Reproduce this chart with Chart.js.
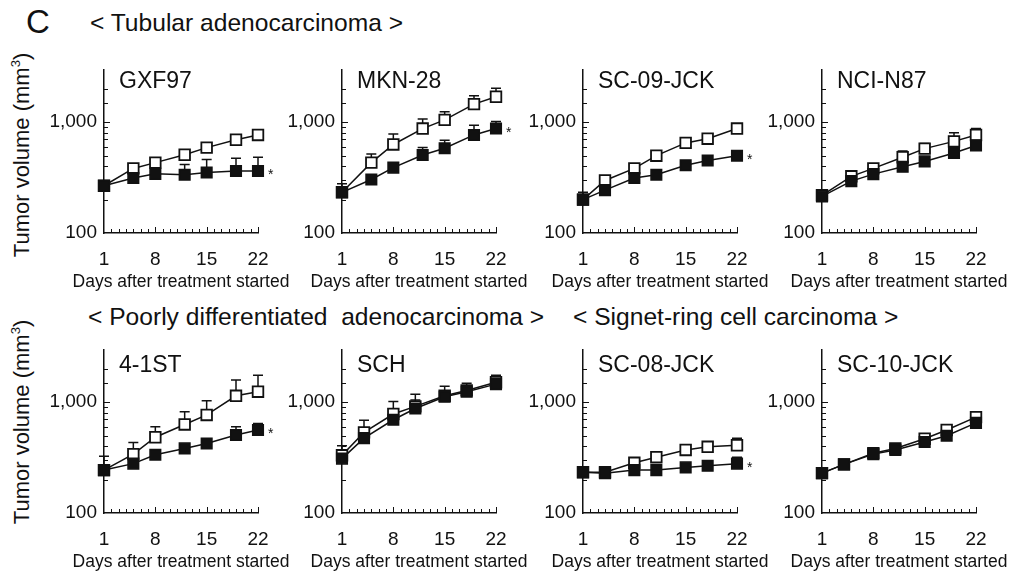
<!DOCTYPE html>
<html>
<head>
<meta charset="utf-8">
<script src="https://cdn.jsdelivr.net/npm/chart.js@4.4.0/dist/chart.umd.min.js"></script>
<style>
  body { margin: 0; background: #fff; width: 1014px; height: 574px; position: relative; overflow: hidden;
         font-family: "Liberation Sans", Arial, sans-serif; color: #111; }
  .txt { position: absolute; white-space: pre; line-height: 1; }
  .head { font-size: 24.6px; }
  .ytitle { font-size: 22px; transform: translate(-50%, -50%) rotate(-90deg); }
  .ytitle span { font-size: 13px; position: relative; top: -9px; }
  canvas { position: absolute; }
</style>
</head>
<body>
<div class="txt" style="left:26px;top:5px;font-size:33px">C</div>
<div class="txt head" style="left:90px;top:11px">&lt; Tubular adenocarcinoma &gt;</div>
<div class="txt head" style="left:88px;top:305px">&lt; Poorly differentiated  adenocarcinoma &gt;</div>
<div class="txt head" style="left:573px;top:305px">&lt; Signet-ring cell carcinoma &gt;</div>
<div class="txt ytitle" style="left:22px;top:155px">Tumor volume (mm<span>3</span>)</div>
<div class="txt ytitle" style="left:22px;top:422px">Tumor volume (mm<span>3</span>)</div>

<script>
// measurement days (two schedules)
const daysA = [1, 5, 8, 12, 15, 19, 22];
const daysB = [1, 4, 8, 11, 15, 18, 22];
const xTickLabels = [1, 8, 15, 22];
const yTickLabels = [100, 1000];
const xTitle = 'Days after treatment started';

// control (open squares) and treated (filled squares); *Hi = top of error bar
const gxf97Ctrl = [267, 383, 432, 509, 590, 695, 768];
const gxf97CtrlHi = [null, null, null, null, null, null, null];
const gxf97Trt = [267, 314, 342, 336, 352, 363, 363];
const gxf97TrtHi = [null, null, null, 415, 461, 474, 483];

const mkn28Ctrl = [233, 432, 630, 877, 1050, 1458, 1698];
const mkn28CtrlHi = [279, 516, 783, 1070, 1245, 1733, 2030];
const mkn28Trt = [233, 304, 389, 506, 582, 768, 877];
const mkn28TrtHi = [null, null, null, 590, 686, 937, 1014];

const sc09Ctrl = [200, 298, 383, 499, 651, 710, 877];
const sc09CtrlHi = [233, null, null, null, null, null, null];
const sc09Trt = [200, 244, 314, 336, 409, 452, 499];
const sc09TrtHi = [null, null, null, null, null, null, null];

const n87Ctrl = [219, 325, 383, 483, 578, 672, 768];
const n87CtrlHi = [241, 359, 409, 551, 642, 804, 877];
const n87Trt = [214, 294, 340, 396, 443, 527, 617];
const n87TrtHi = [null, null, null, null, null, null, null];

const st41Ctrl = [244, 340, 483, 630, 768, 1143, 1245];
const st41CtrlHi = [325, 432, 602, 820, 1034, 1590, 1757];
const st41Trt = [244, 279, 336, 383, 424, 506, 562];
const st41TrtHi = [null, null, null, null, null, 602, 642];

const schCtrl = [332, 534, 783, 918, 1143, 1279, 1517];
const schCtrlHi = [405, 686, 1014, 1181, 1393, 1486, 1757];
const schTrt = [310, 474, 695, 877, 1120, 1245, 1458];
const schTrtHi = [null, null, null, 1049, null, null, null];

const sc08Ctrl = [233, 233, 284, 319, 371, 396, 409];
const sc08CtrlHi = [null, null, null, null, null, null, 474];
const sc08Trt = [233, 229, 244, 244, 258, 267, 279];
const sc08TrtHi = [null, null, null, null, null, null, 319];

const sc10Ctrl = [229, 275, 347, 383, 468, 562, 734];
const sc10CtrlHi = [null, null, null, null, null, null, 794];
const sc10Trt = [229, 275, 340, 371, 438, 499, 651];
const sc10TrtHi = [null, null, null, null, null, null, null];

const panels = [
  { name: 'GXF97',     days: daysA, ctrl: gxf97Ctrl, ctrlHi: gxf97CtrlHi, trt: gxf97Trt, trtHi: gxf97TrtHi, star: true },
  { name: 'MKN-28',    days: daysA, ctrl: mkn28Ctrl, ctrlHi: mkn28CtrlHi, trt: mkn28Trt, trtHi: mkn28TrtHi, star: true },
  { name: 'SC-09-JCK', days: daysB, ctrl: sc09Ctrl,  ctrlHi: sc09CtrlHi,  trt: sc09Trt,  trtHi: sc09TrtHi,  star: true },
  { name: 'NCI-N87',   days: daysA, ctrl: n87Ctrl,   ctrlHi: n87CtrlHi,   trt: n87Trt,   trtHi: n87TrtHi,   star: false },
  { name: '4-1ST',     days: daysA, ctrl: st41Ctrl,  ctrlHi: st41CtrlHi,  trt: st41Trt,  trtHi: st41TrtHi,  star: true },
  { name: 'SCH',       days: daysB, ctrl: schCtrl,   ctrlHi: schCtrlHi,   trt: schTrt,   trtHi: schTrtHi,   star: false },
  { name: 'SC-08-JCK', days: daysB, ctrl: sc08Ctrl,  ctrlHi: sc08CtrlHi,  trt: sc08Trt,  trtHi: sc08TrtHi,  star: true },
  { name: 'SC-10-JCK', days: daysB, ctrl: sc10Ctrl,  ctrlHi: sc10CtrlHi,  trt: sc10Trt,  trtHi: sc10TrtHi,  star: false },
];

// layout
const colLeft = [44, 282, 523, 762];
const rowTop = [51, 331];
const nameDy = [19, 23];
const W = 250, H = 241;
const FONT = '"Liberation Sans", Arial, sans-serif';
const INK = '#111';

// inward tick marks + error bars (drawn under the markers)
const ticksAndErrors = {
  id: 'ticksAndErrors',
  beforeDatasetsDraw(chart) {
    const { ctx, chartArea: a, scales: { x, y } } = chart;
    ctx.save();
    ctx.strokeStyle = INK;
    ctx.lineWidth = 1;
    ctx.beginPath();
    x.ticks.forEach(t => {
      if (t.value === x.min) return;
      const px = Math.round(x.getPixelForValue(t.value)) + 0.5;
      const len = xTickLabels.includes(t.value) ? 6 : 4;
      ctx.moveTo(px, a.bottom);
      ctx.lineTo(px, a.bottom - len);
    });
    y.ticks.forEach(t => {
      if (t.value === y.min || t.value === y.max) return;
      const py = Math.round(y.getPixelForValue(t.value)) + 0.5;
      const len = yTickLabels.includes(Math.round(t.value)) ? 6 : 4;
      ctx.moveTo(a.left, py);
      ctx.lineTo(a.left + len, py);
    });
    ctx.stroke();

    ctx.lineWidth = 1.5;
    ctx.beginPath();
    chart.data.datasets.forEach((ds, i) => {
      const meta = chart.getDatasetMeta(i);
      ds.hi.forEach((h, j) => {
        if (h == null) return;
        const pt = meta.data[j];
        const yh = y.getPixelForValue(h);
        ctx.moveTo(pt.x, pt.y);
        ctx.lineTo(pt.x, yh);
        ctx.moveTo(pt.x - 5, yh);
        ctx.lineTo(pt.x + 5, yh);
      });
    });
    ctx.stroke();
    ctx.restore();
  },
  afterDraw(chart, args, opts) {
    const { ctx, chartArea: a } = chart;
    ctx.save();
    ctx.fillStyle = INK;
    ctx.textBaseline = 'alphabetic';
    ctx.textAlign = 'left';
    ctx.font = '23px ' + FONT;
    ctx.fillText(opts.name, a.left + 15, a.top + opts.nameDy);
    if (opts.star) {
      const meta = chart.getDatasetMeta(1);
      const pt = meta.data[meta.data.length - 1];
      ctx.font = '14px ' + FONT;
      ctx.fillText('*', pt.x + 10, pt.y + 8);
    }
    ctx.font = '17.5px ' + FONT;
    ctx.textAlign = 'center';
    ctx.fillText(xTitle, (a.left + a.right) / 2, a.bottom + 54);
    ctx.restore();
  }
};

panels.forEach((p, k) => {
  const row = Math.floor(k / 4), col = k % 4;
  const cv = document.createElement('canvas');
  cv.width = W; cv.height = H;
  cv.style.left = colLeft[col] + 'px';
  cv.style.top = rowTop[row] + 'px';
  document.body.appendChild(cv);

  new Chart(cv, {
    type: 'line',
    data: {
      datasets: [
        {
          label: 'control',
          data: p.days.map((d, i) => ({ x: d, y: p.ctrl[i] })),
          hi: p.ctrlHi,
          borderColor: INK, borderWidth: 1.5,
          pointStyle: 'rect', pointRadius: 7.5,
          pointBackgroundColor: '#fff', pointBorderColor: INK, pointBorderWidth: 1.8,
          clip: false, order: 2
        },
        {
          label: 'treated',
          data: p.days.map((d, i) => ({ x: d, y: p.trt[i] })),
          hi: p.trtHi,
          borderColor: INK, borderWidth: 1.5,
          pointStyle: 'rect', pointRadius: 7.5,
          pointBackgroundColor: INK, pointBorderColor: INK, pointBorderWidth: 1.5,
          clip: false, order: 1
        }
      ]
    },
    options: {
      responsive: false,
      animation: false,
      layout: { padding: { top: 10, right: 36, bottom: 2, left: 0 } },
      plugins: {
        legend: { display: false },
        tooltip: { enabled: false },
        ticksAndErrors: { name: p.name, star: p.star, nameDy: nameDy[row] }
      },
      scales: {
        x: {
          type: 'linear', min: 1, max: 22,
          afterFit: s => { s.height = 57; },
          grid: { display: true, drawOnChartArea: false, drawTicks: false },
          border: { color: INK, width: 1.5 },
          ticks: {
            stepSize: 1, autoSkip: false, maxRotation: 0, padding: 15,
            color: INK, font: { family: FONT, size: 19 },
            callback: v => xTickLabels.includes(v) ? String(v) : ''
          }
        },
        y: {
          type: 'logarithmic', min: 100, max: 3000,
          afterFit: s => { s.width = 60; },
          grid: { display: true, drawOnChartArea: false, drawTicks: false },
          border: { color: INK, width: 1.5 },
          ticks: {
            autoSkip: false, padding: 7,
            color: INK, font: { family: FONT, size: 19 },
            callback: v => yTickLabels.includes(Math.round(v)) ? Math.round(v).toLocaleString('en-US') : ''
          }
        }
      }
    },
    plugins: [ticksAndErrors]
  });
});
</script>
</body>
</html>
